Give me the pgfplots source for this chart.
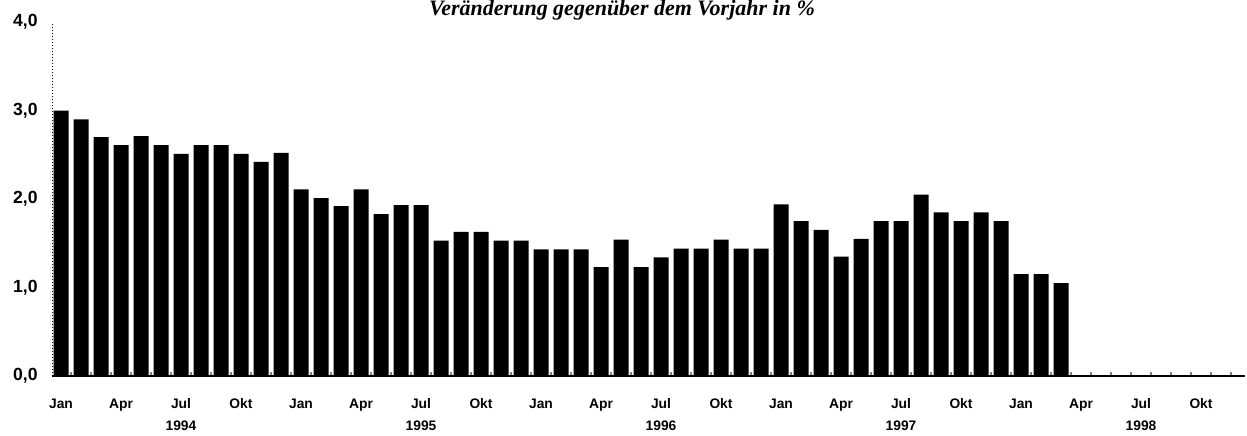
\documentclass[border=0pt]{standalone}
\usepackage{fontspec}
\setmainfont{Liberation Sans}
\newfontfamily\titlefont{Liberation Serif}
\usepackage{pgfplots}
\pgfplotsset{compat=1.18}
\begin{document}
\begin{tikzpicture}
\useasboundingbox (0,0) rectangle (623.5pt,217.5pt);
\clip (0,0) rectangle (623.5pt,217.5pt);
\node[anchor=base, inner sep=0pt, font=\titlefont\bfseries\itshape\fontsize{11}{13}\selectfont] at (311pt,209.5pt) {Veränderung gegenüber dem Vorjahr in \%};
\begin{axis}[
  at={(26pt,29.5pt)}, anchor=south west,
  scale only axis, width=596.5pt, height=177pt,
  xmin=-0.45, xmax=59.2, ymin=0, ymax=4,
  axis x line=bottom, axis y line=left,
  x axis line style={-, line width=1pt},
  y axis line style={-, densely dotted, line width=0.5pt},
  ybar, bar width=7.5pt,
  xtick={0,3,...,57},
  xticklabels={\strut Jan,\strut Apr,{\strut Jul\\1994},\strut Okt,\strut Jan,\strut Apr,{\strut Jul\\1995},\strut Okt,\strut Jan,\strut Apr,{\strut Jul\\1996},\strut Okt,\strut Jan,\strut Apr,{\strut Jul\\1997},\strut Okt,\strut Jan,\strut Apr,{\strut Jul\\1998},\strut Okt},
  minor xtick={-0.5,0.5,...,58.5},
  major x tick style={draw=none},
  minor x tick style={line width=0.8pt},
  minor tick length=2pt,
  tick align=inside,
  xticklabel style={font=\bfseries\fontsize{6.9}{11}\selectfont, align=center, anchor=north, inner sep=0pt, yshift=-8.5pt},
  ytick={0,1,2,3,4},
  yticklabels={{0,0},{1,0},{2,0},{3,0},{4,0}},
  ytick style={draw=none},
  yticklabel style={font=\bfseries\fontsize{8.8}{10}\selectfont, anchor=east, inner sep=0pt, xshift=-7pt},
  clip=false,
]
\addplot[fill=black, draw=none] coordinates {
(0,3.00) (1,2.90) (2,2.70) (3,2.61) (4,2.71) (5,2.61) (6,2.51) (7,2.61) (8,2.61) (9,2.51) (10,2.42) (11,2.52)
(12,2.11) (13,2.01) (14,1.92) (15,2.11) (16,1.83) (17,1.93) (18,1.93) (19,1.53) (20,1.63) (21,1.63) (22,1.53) (23,1.53)
(24,1.43) (25,1.43) (26,1.43) (27,1.23) (28,1.54) (29,1.23) (30,1.34) (31,1.44) (32,1.44) (33,1.54) (34,1.44) (35,1.44)
(36,1.94) (37,1.75) (38,1.65) (39,1.35) (40,1.55) (41,1.75) (42,1.75) (43,2.05) (44,1.85) (45,1.75) (46,1.85) (47,1.75)
(48,1.15) (49,1.15) (50,1.05)
};
\end{axis}
\end{tikzpicture}
\end{document}
